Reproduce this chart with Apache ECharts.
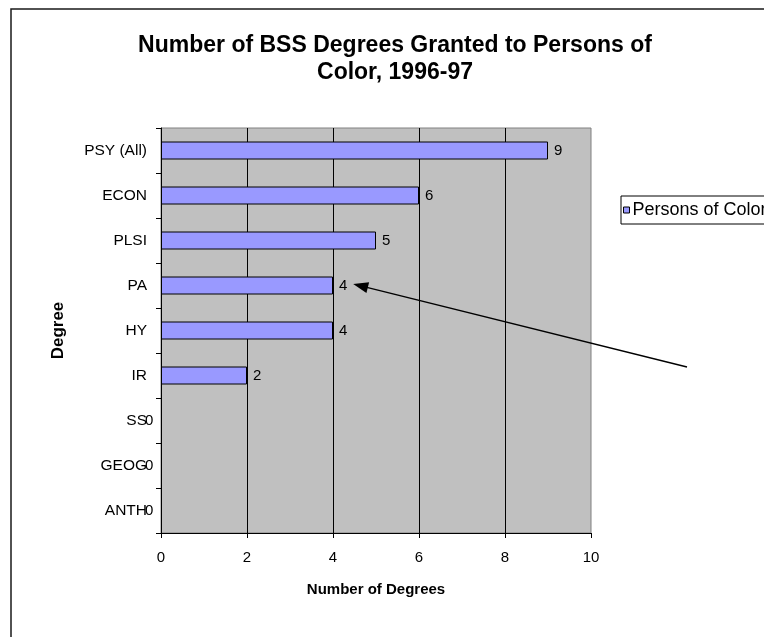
<!DOCTYPE html>
<html>
<head>
<meta charset="utf-8">
<script src="https://cdn.jsdelivr.net/npm/echarts@6/dist/echarts.min.js"></script>
<style>
  html, body { margin: 0; padding: 0; background: #fff; }
  #chart { width: 764px; height: 637px; }
</style>
</head>
<body>
<div id="chart"></div>
<script>
// Degree programmes, listed top to bottom
const categories = ['PSY (All)', 'ECON', 'PLSI', 'PA', 'HY', 'IR', 'SS', 'GEOG', 'ANTH'];
// Degrees granted to persons of colour, 1996-97
const degreeCounts = [9, 6, 5, 4, 4, 2, 0, 0, 0];
const seriesName = 'Persons of Color';
const titleText = 'Number of BSS Degrees Granted to Persons of\nColor, 1996-97';

const FONT = '"Liberation Sans", Arial, sans-serif';
const chart = echarts.init(document.getElementById('chart'), null, { renderer: 'canvas' });

// zero-valued bars have their label tucked back against the axis
const barData = degreeCounts.map(v => v === 0
  ? { value: v, label: { offset: [-22, 0] }, itemStyle: { borderWidth: 0 } }
  : v);

const option = {
  backgroundColor: '#ffffff',
  animation: false,
  title: {
    text: titleText,
    left: 390,
    top: 27,
    textAlign: 'center',
    textStyle: {
      fontFamily: FONT,
      fontSize: 23,
      fontWeight: 'bold',
      color: '#000',
      lineHeight: 27
    }
  },
  legend: {
    left: 621,
    top: 196,
    orient: 'vertical',
    padding: [5, 200, 5, 2],
    itemWidth: 6,
    itemHeight: 6,
    itemGap: 4,
    icon: 'rect',
    borderColor: '#000',
    borderWidth: 1,
    backgroundColor: '#fff',
    textStyle: { fontFamily: FONT, fontSize: 18, color: '#000', padding: [0, 0, 0, -2] },
    itemStyle: { borderColor: '#000', borderWidth: 1 },
    data: [seriesName]
  },
  grid: {
    left: 161,
    right: 173,
    top: 128,
    bottom: 104,
    show: true,
    backgroundColor: '#c0c0c0',
    borderColor: '#808080',
    borderWidth: 1
  },
  xAxis: {
    type: 'value',
    min: 0,
    max: 10,
    interval: 2,
    name: 'Number of Degrees',
    nameLocation: 'middle',
    nameGap: 49,
    nameTextStyle: { fontFamily: FONT, fontSize: 15, fontWeight: 'bold', color: '#000' },
    axisLine: { show: true, lineStyle: { color: '#000', width: 1 } },
    axisTick: { show: true, inside: false, length: 5, lineStyle: { color: '#000' } },
    axisLabel: { fontFamily: FONT, fontSize: 15, color: '#000', margin: 17 },
    splitLine: { show: true, showMinLine: false, showMaxLine: false, lineStyle: { color: '#000', width: 1 } }
  },
  yAxis: {
    type: 'category',
    data: categories,
    inverse: true,
    name: 'Degree',
    nameLocation: 'middle',
    nameGap: 94,
    nameRotate: 90,
    nameTextStyle: { fontFamily: FONT, fontSize: 17, fontWeight: 'bold', color: '#000' },
    axisLine: { show: true, lineStyle: { color: '#000', width: 1 } },
    axisTick: { show: true, inside: false, length: 5, alignWithLabel: false, lineStyle: { color: '#000' } },
    axisLabel: { fontFamily: FONT, fontSize: 15.5, color: '#000', margin: 14 },
    splitLine: { show: false }
  },
  series: [{
    name: seriesName,
    type: 'bar',
    data: barData,
    barWidth: 18,
    itemStyle: { color: '#9999ff', borderColor: '#000', borderWidth: 1 },
    label: {
      show: true,
      position: 'right',
      distance: 6,
      fontFamily: FONT,
      fontSize: 15,
      color: '#000'
    }
  }]
};

chart.setOption(option);

// Annotation arrow pointing at the PA label, plus the outer chart frame
const tip = chart.convertToPixel({ gridIndex: 0 }, [4.47, 'PA']);
tip[1] -= 1.5;
const tail = [687, 367];
const dx = tail[0] - tip[0], dy = tail[1] - tip[1];
const len = Math.sqrt(dx * dx + dy * dy);
const ux = dx / len, uy = dy / len;
const headLen = 15, headHalf = 5.5;
const bx = tip[0] + ux * headLen, by = tip[1] + uy * headLen;

chart.setOption({
  graphic: [
    {
      type: 'rect',
      shape: { x: 11, y: 9, width: 900, height: 800 },
      style: { fill: 'none', stroke: '#1a1a1a', lineWidth: 1.5 },
      silent: true,
      z: 100
    },
    {
      type: 'line',
      shape: { x1: bx - ux * 2, y1: by - uy * 2, x2: tail[0], y2: tail[1] },
      style: { stroke: '#000', lineWidth: 1.3 },
      silent: true,
      z: 100
    },
    {
      type: 'polygon',
      shape: {
        points: [
          [tip[0], tip[1]],
          [bx - uy * headHalf, by + ux * headHalf],
          [bx + uy * headHalf, by - ux * headHalf]
        ]
      },
      style: { fill: '#000' },
      silent: true,
      z: 100
    }
  ]
});
</script>
</body>
</html>
